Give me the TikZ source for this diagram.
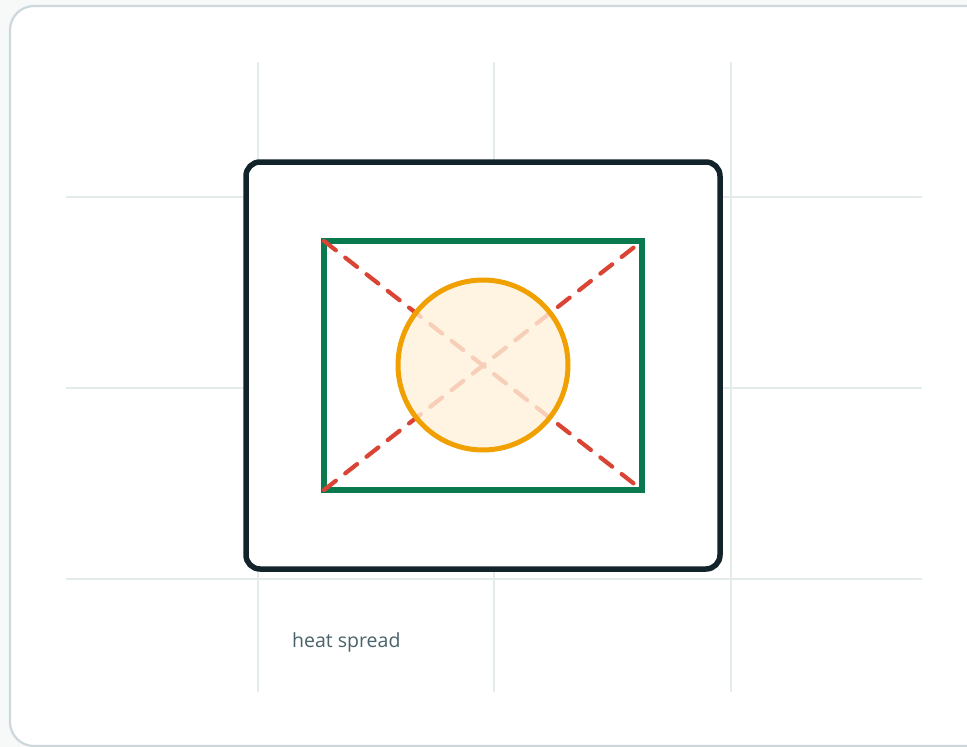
\documentclass[tikz,border=0pt]{standalone}
\usepackage{fontspec}
\setmainfont{Open Sans}
\begin{document}
\begin{tikzpicture}[x=1pt,y=-1pt,
  gridline/.style={draw=gridc,line width=1.3pt},
  framebox/.style={draw=framec,line width=2.2pt,fill=white,rounded corners=24pt},
  outerbox/.style={draw=darkc,line width=5.5pt,rounded corners=14pt},
  greenbox/.style={draw=greenc,line width=5.5pt},
  diag/.style={draw=redc,line width=4.2pt,dash pattern=on 15pt off 12pt,line cap=round},
  heat/.style={draw=orangec,line width=5pt,fill=fillc,fill opacity=0.8},
  lbl/.style={text=textc,font=\fontsize{19.5}{22}\selectfont,anchor=base west,inner sep=0pt}]
\definecolor{bgc}{HTML}{F7F9F9}
\definecolor{framec}{HTML}{CCD8DC}
\definecolor{gridc}{HTML}{E4EBEB}
\definecolor{darkc}{HTML}{13232A}
\definecolor{greenc}{HTML}{0A7A4E}
\definecolor{redc}{HTML}{D94434}
\definecolor{orangec}{HTML}{F0A000}
\definecolor{fillc}{HTML}{FFF2DA}
\definecolor{textc}{HTML}{4A626B}
\useasboundingbox (0,0) rectangle (967,747);
\fill[bgc] (0,0) rectangle (967,747);
\path[framebox] (10,6) rectangle (990,746);
% grid
\foreach \x in {258,494,731} \path[gridline] (\x,62) -- (\x,692);
\foreach \y in {197,388,579} \path[gridline] (66,\y) -- (922,\y);
% outer dark box
\path[outerbox,fill=white] (246,162) rectangle (720,569);
% green box corners
\coordinate (tl) at (324,241);
\coordinate (tr) at (642,241);
\coordinate (br) at (642,490);
\coordinate (bl) at (324,490);
\path[greenbox] (tl) rectangle (br);
\path[diag] (tl) -- (br);
\path[diag] (bl) -- (tr);
\node[heat,circle,minimum size=170pt,inner sep=0pt] (c) at (483,365) {};
\node[lbl] (t) at (292,647) {heat spread};
\end{tikzpicture}
\end{document}
